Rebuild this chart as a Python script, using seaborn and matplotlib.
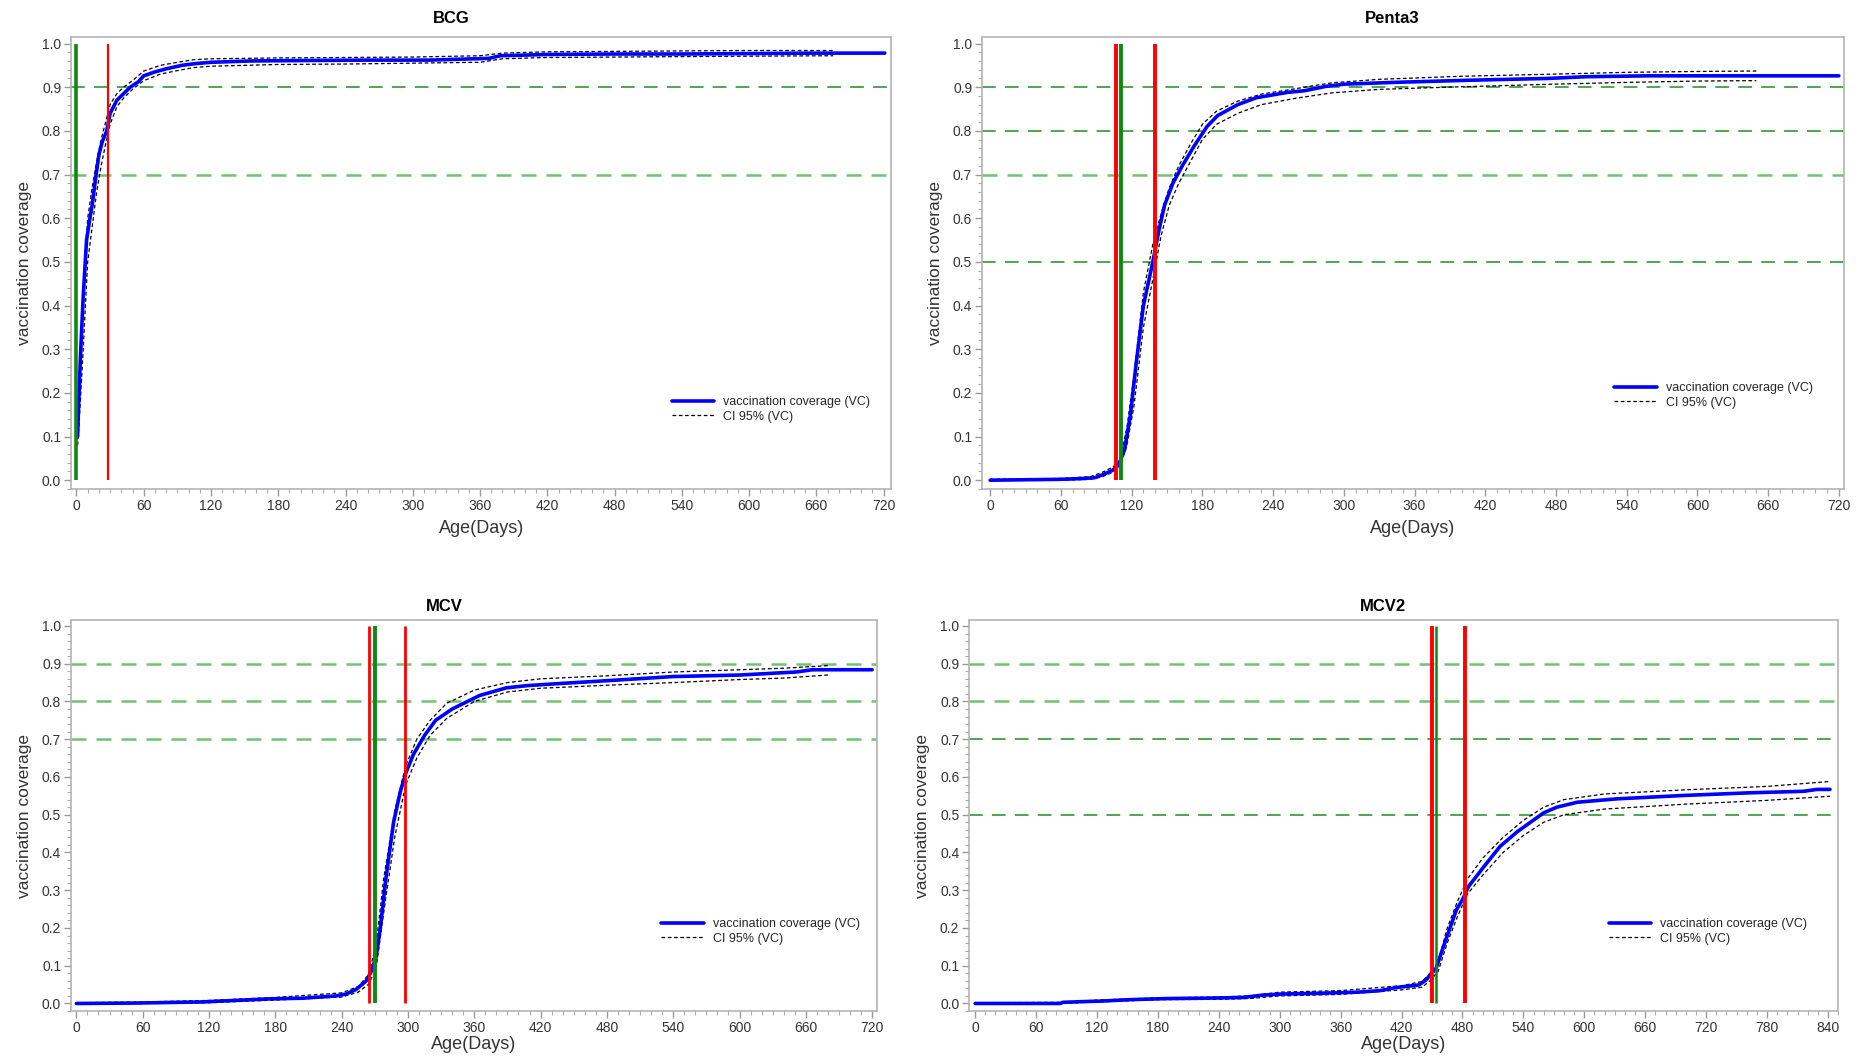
import numpy as np
import pandas as pd
import matplotlib
matplotlib.use("Agg")
import matplotlib.pyplot as plt
import seaborn as sns
from matplotlib.lines import Line2D
from matplotlib.ticker import MultipleLocator, FormatStrFormatter

# ---------------- data ----------------
bcg_days = [1, 2, 4, 6, 9, 12, 14, 17, 20, 23, 27, 30, 36, 42, 48, 55, 60, 70, 80, 94, 106, 120, 155, 200,
            260, 315, 368, 378, 422, 480, 540, 600, 660, 721]
bcg_vc = [0.10, 0.18, 0.31, 0.42, 0.55, 0.60, 0.63, 0.69, 0.745, 0.775, 0.80, 0.84, 0.87, 0.885, 0.90, 0.912,
          0.926, 0.935, 0.942, 0.95, 0.954, 0.957, 0.96, 0.961, 0.962, 0.962, 0.966, 0.972, 0.975, 0.976,
          0.976, 0.977, 0.978, 0.978]
bcg_ci_days = [1, 3, 6, 10, 14, 18, 22, 26, 30, 36, 42, 50, 60, 75, 90, 105, 120, 180, 240, 300, 360, 380,
               420, 480, 540, 600, 675]
bcg_lo = [0.08, 0.16, 0.30, 0.50, 0.58, 0.66, 0.72, 0.77, 0.815, 0.855, 0.875, 0.895, 0.915, 0.93, 0.938,
          0.945, 0.948, 0.952, 0.953, 0.955, 0.957, 0.965, 0.968, 0.969, 0.970, 0.971, 0.972]
bcg_hi = [0.13, 0.27, 0.44, 0.60, 0.67, 0.73, 0.78, 0.82, 0.86, 0.885, 0.90, 0.915, 0.937, 0.95, 0.957,
          0.963, 0.965, 0.967, 0.968, 0.969, 0.972, 0.978, 0.981, 0.982, 0.983, 0.984, 0.984]

p3_days = [0, 30, 60, 80, 89, 95, 104, 109, 114, 119, 124, 130, 138, 143, 148, 155, 163, 173, 184, 193, 210,
           226, 252, 267, 285, 301, 343, 408, 473, 506, 558, 620, 720]
p3_vc = [0.0, 0.001, 0.002, 0.004, 0.006, 0.012, 0.023, 0.035, 0.07, 0.15, 0.27, 0.40, 0.50, 0.57, 0.63,
         0.68, 0.72, 0.765, 0.81, 0.835, 0.86, 0.876, 0.888, 0.892, 0.902, 0.907, 0.911, 0.916, 0.92, 0.924,
         0.926, 0.926, 0.926]
p3_ci_days = [0, 60, 85, 95, 104, 110, 116, 122, 130, 138, 145, 152, 160, 170, 180, 192, 210, 230, 260, 290,
              330, 400, 480, 540, 600, 650]
p3_lo = [0.0, 0.0, 0.002, 0.008, 0.018, 0.03, 0.08, 0.17, 0.35, 0.46, 0.56, 0.63, 0.68, 0.73, 0.78, 0.815,
         0.84, 0.86, 0.875, 0.887, 0.895, 0.901, 0.907, 0.911, 0.914, 0.915]
p3_hi = [0.002, 0.004, 0.008, 0.018, 0.03, 0.045, 0.12, 0.24, 0.43, 0.54, 0.61, 0.67, 0.72, 0.77, 0.815,
         0.845, 0.868, 0.884, 0.897, 0.91, 0.918, 0.925, 0.93, 0.934, 0.936, 0.937]

mcv_days = [0, 52, 113, 174, 205, 235, 244, 253, 262, 266, 271, 275, 280, 287, 293, 298, 305, 315, 325, 340,
            365, 389, 408, 440, 480, 540, 600, 651, 666, 720]
mcv_vc = [0.0, 0.001, 0.004, 0.012, 0.014, 0.02, 0.025, 0.037, 0.059, 0.08, 0.12, 0.2, 0.33, 0.48, 0.56,
          0.61, 0.66, 0.71, 0.75, 0.78, 0.816, 0.836, 0.842, 0.848, 0.855, 0.866, 0.87, 0.878, 0.884,
          0.884]
mcv_ci_days = [0, 60, 120, 180, 240, 255, 264, 271, 278, 288, 298, 308, 320, 335, 360, 390, 420, 480, 540,
               600, 640, 680]
mcv_lo = [0.0, 0.0, 0.002, 0.009, 0.017, 0.03, 0.05, 0.09, 0.24, 0.44, 0.58, 0.65, 0.71, 0.755, 0.80, 0.825,
          0.835, 0.843, 0.85, 0.858, 0.862, 0.87]
mcv_hi = [0.002, 0.004, 0.008, 0.016, 0.028, 0.045, 0.075, 0.15, 0.33, 0.51, 0.63, 0.70, 0.75, 0.795, 0.83,
          0.85, 0.86, 0.868, 0.878, 0.884, 0.888, 0.895]

mcv2_days = [0, 84, 86, 107, 122, 152, 189, 227, 264, 283, 302, 339, 377, 399, 414, 437, 444, 448, 454, 459,
             467, 474, 480, 486, 501, 517, 534, 560, 573, 593, 632, 698, 763, 816, 829, 842]
mcv2_vc = [0.0, 0.0, 0.003, 0.005, 0.006, 0.01, 0.013, 0.014, 0.016, 0.022, 0.025, 0.027, 0.03, 0.034, 0.042,
           0.049, 0.062, 0.075, 0.093, 0.133, 0.195, 0.248, 0.275, 0.31, 0.362, 0.416, 0.455, 0.505, 0.52,
           0.533, 0.542, 0.551, 0.558, 0.562, 0.567, 0.567]
mcv2_ci_days = [0, 84, 120, 180, 240, 270, 300, 360, 420, 440, 448, 456, 465, 475, 485, 500, 520, 540, 560,
                580, 620, 700, 780, 842]
mcv2_lo = [0.0, 0.0, 0.004, 0.01, 0.011, 0.013, 0.02, 0.024, 0.036, 0.043, 0.06, 0.085, 0.16, 0.23, 0.29,
           0.34, 0.40, 0.445, 0.48, 0.5, 0.515, 0.528, 0.538, 0.549]
mcv2_hi = [0.002, 0.003, 0.009, 0.015, 0.017, 0.02, 0.03, 0.034, 0.047, 0.058, 0.08, 0.11, 0.2, 0.27, 0.33,
           0.385, 0.44, 0.485, 0.52, 0.54, 0.555, 0.566, 0.575, 0.588]

titles = ["BCG", "Penta3", "MCV", "MCV2"]
# target reference lines (value, shade)
hlines = [
    [(0.9, "dark"), (0.7, "light")],
    [(0.9, "dark"), (0.8, "dark"), (0.7, "light"), (0.5, "dark")],
    [(0.9, "light"), (0.8, "light"), (0.7, "light")],
    [(0.9, "light"), (0.8, "light"), (0.7, "dark"), (0.5, "dark")],
]
green_days = [[0], [111], [270], [454]]
red_days = [[28], [107, 140], [265, 297], [450, 482]]
x_max_tick = [720, 720, 720, 840]
legend_labels = ["vaccination coverage (VC)", "CI 95% (VC)"]

# ---------------- style ----------------
sns.set_theme(style="ticks")
plt.rcParams["font.family"] = ["Liberation Sans", "DejaVu Sans"]

fig = plt.figure(figsize=(18.65, 10.56), dpi=100)
fig.patch.set_facecolor("white")

# axes rectangles [left, bottom, width, height] in figure fraction
rects = [
    [0.038, 0.537, 0.440, 0.428],
    [0.5265, 0.537, 0.462, 0.428],
    [0.038, 0.0426, 0.432, 0.370],
    [0.5196, 0.0426, 0.466, 0.370],
]
xlims = [(-5, 727), (-7, 724), (-5, 724), (-6, 850)]
title_x = [0.464, 0.476, 0.463, 0.476]
title_pad = [10, 10, 7, 7]
xlabel_pad = [5, 5, 1, 1]
leg_anchor = [(0.732, 0.205), (0.734, 0.236), (0.733, 0.238), (0.736, 0.238)]
red_lw = [1.6, 2.8, 2.0, 2.8]
green_lw = [2.6, 2.8, 2.8, 1.8]

series = [
    (bcg_days, bcg_vc, bcg_ci_days, bcg_lo, bcg_hi),
    (p3_days, p3_vc, p3_ci_days, p3_lo, p3_hi),
    (mcv_days, mcv_vc, mcv_ci_days, mcv_lo, mcv_hi),
    (mcv2_days, mcv2_vc, mcv2_ci_days, mcv2_lo, mcv2_hi),
]

dark_g = "#1f8f1f"
light_g = "#72c172"
tick_col = "#333333"
spine_col = "#b4b4b4"

for i in range(4):
    ax = fig.add_axes(rects[i])
    days, vc, cdays, lo, hi = series[i]

    # reference horizontal dashed lines
    for val, shade in hlines[i]:
        if shade == "dark":
            ax.axhline(val, color=dark_g, lw=1.1, ls=(0, (9, 6)), zorder=1)
        else:
            ax.axhline(val, color=light_g, lw=1.8, ls=(0, (6, 4)), zorder=1)

    # CI lines
    ci_df = pd.DataFrame({"day": cdays, "lo": lo, "hi": hi})
    sns.lineplot(data=ci_df, x="day", y="lo", ax=ax, color="black", lw=0.9,
                 linestyle=(0, (3, 2)), estimator=None, zorder=3)
    sns.lineplot(data=ci_df, x="day", y="hi", ax=ax, color="black", lw=0.9,
                 linestyle=(0, (3, 2)), estimator=None, zorder=3)

    # main coverage curve
    vc_df = pd.DataFrame({"day": days, "vc": vc})
    sns.lineplot(data=vc_df, x="day", y="vc", ax=ax, color="#0000ff", lw=2.6,
                 estimator=None, zorder=4)

    # vertical reference lines
    for d in red_days[i]:
        ax.vlines(d, 0, 1.0, color="#ff0000", lw=red_lw[i], zorder=5)
    for d in green_days[i]:
        ax.vlines(d, 0, 1.0, color="#118811", lw=green_lw[i], zorder=5)

    ax.set_xlim(*xlims[i])
    ax.set_ylim(-0.02, 1.015)
    ax.xaxis.set_major_locator(MultipleLocator(60))
    ax.xaxis.set_minor_locator(MultipleLocator(10))
    ax.yaxis.set_major_locator(MultipleLocator(0.1))
    ax.yaxis.set_minor_locator(MultipleLocator(0.02))
    ax.yaxis.set_major_formatter(FormatStrFormatter("%.1f"))
    ax.set_xticks(np.arange(0, x_max_tick[i] + 1, 60))
    ax.tick_params(axis="both", which="major", length=5, width=1, color="#999999",
                   labelsize=10, labelcolor=tick_col, pad=2)
    ax.tick_params(axis="both", which="minor", length=3, width=0.8, color="#aaaaaa")
    for s in ax.spines.values():
        s.set_visible(True)
        s.set_color(spine_col)
        s.set_linewidth(1.2)

    ax.set_xlabel("Age(Days)", fontsize=13, color=tick_col, labelpad=xlabel_pad[i])
    ax.set_ylabel("vaccination coverage", fontsize=12.5, color=tick_col, labelpad=7)
    ax.set_title(titles[i], fontsize=12, fontweight="bold", color="black", x=title_x[i],
                 pad=title_pad[i])

    handles = [Line2D([0], [0], color="#0000ff", lw=2.6),
               Line2D([0], [0], color="black", lw=0.9, ls=(0, (3, 2)))]
    ax.legend(handles, legend_labels, loc="upper left", bbox_to_anchor=leg_anchor[i],
              frameon=False, fontsize=9, handlelength=3.4, handletextpad=0.7,
              borderpad=0, borderaxespad=0, labelspacing=0.2)

fig.savefig("out.png", dpi=100, facecolor="white")
